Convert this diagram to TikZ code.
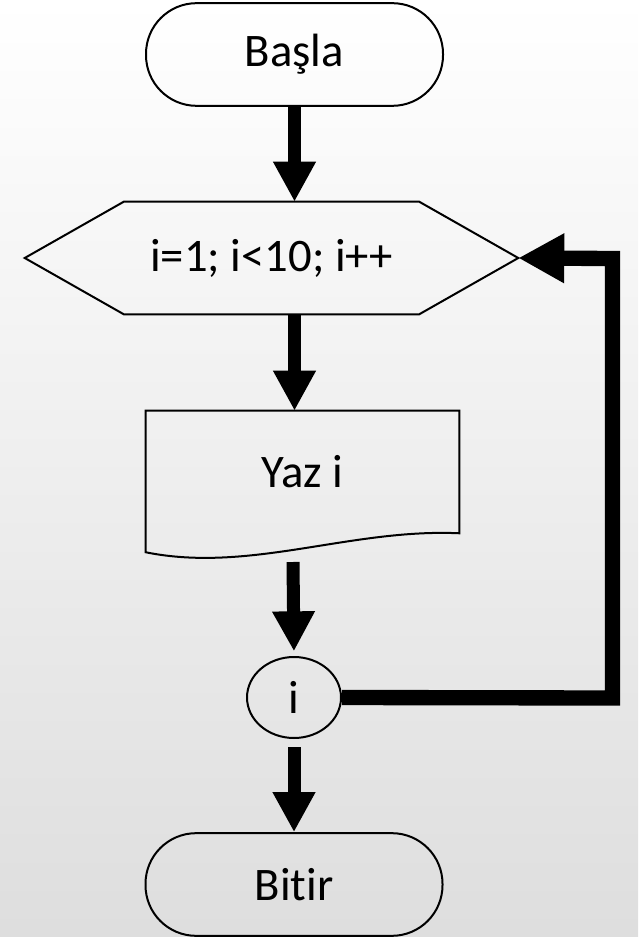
\documentclass[tikz,border=0pt]{standalone}
\usepackage{fontspec}
\setmainfont{Carlito}[Ligatures=NoCommon]
\usetikzlibrary{arrows.meta,shapes.geometric,calc}
\begin{document}
\begin{tikzpicture}[x=0.75pt,y=-0.75pt,
  outline/.style={draw=black,line width=1.5pt},
  term/.style={outline,rounded corners=38pt,minimum width=222.75pt,minimum height=77pt,inner sep=0pt},
  lbl/.style={font=\fontsize{35}{40}\selectfont},
  flow/.style={line width=9.75pt,-{Triangle[length=30pt,width=30pt]}},
  loopback/.style={line width=11.5pt,line join=miter,-{Triangle[length=34.5pt,width=35pt]}}]
\shade[top color=white,bottom color=black!13] (0,0) rectangle (638,937);
\useasboundingbox (0,0) rectangle (638,937);
% nodes
\node[term,lbl] (start) at (294.5,54.5) {Başla};
\node[lbl,minimum width=369.75pt,minimum height=84pt,inner sep=0pt] (hex) at (271.5,258) {i=1; i<10; i++};
\draw[outline] (hex.west) -- ($(hex.north west)+(99,0)$) -- ($(hex.north east)+(-99,0)$) -- (hex.east) -- ($(hex.south east)+(-99,0)$) -- ($(hex.south west)+(99,0)$) -- cycle;
\node[lbl,minimum width=234.75pt,minimum height=91.5pt,inner sep=0pt] (doc) at (302.5,472) {Yaz i};
\draw[outline,line join=miter] (doc.north west) -- (doc.north east) -- (doc.south east)
  .. controls ($(doc.south east)+(-109,-5)$) and ($(doc.south west)+(104,40)$) .. ($(doc.south west)+(0,19)$) -- cycle;
\node[outline,ellipse,minimum width=70.5pt,minimum height=60.75pt,inner sep=0pt,lbl] (circ) at (294,697.5) {i};
\node[term,lbl] (stop) at (294,884.5) {Bitir};
\coordinate (docout) at (293,562);
\coordinate (cr) at (612.5,698);
\coordinate (cu) at (612.5,258.5);
% connectors
\draw[flow] (start.south) -- (start.south |- hex.north);
\draw[flow] (hex.south -| start.south) -- (doc.north -| start.south);
\draw[flow,shorten >=3.5pt] (docout) -- (circ.north);
\draw[flow,shorten <=6pt] (circ.south) -- (stop.north);
\draw[loopback] (circ.east) -- (cr) -- (cu) -- (hex.east);
\end{tikzpicture}
\end{document}
